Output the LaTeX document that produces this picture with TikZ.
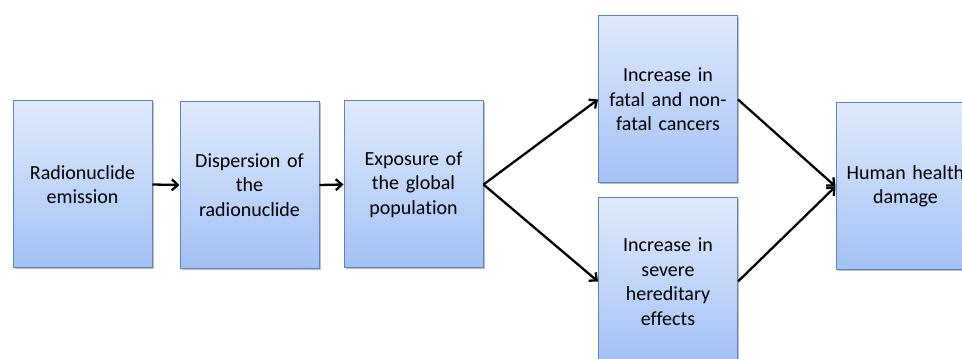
\documentclass[tikz,border=0pt]{standalone}
\usepackage{fontspec}
\setmainfont{Carlito}[Ligatures=NoCommon]
\usetikzlibrary{arrows.meta,shadows}
\definecolor{boxtop}{HTML}{E0EAFC}
\definecolor{boxbot}{HTML}{A3C1F5}
\definecolor{boxline}{HTML}{5A85BF}
\tikzset{
  stage/.style={draw=boxline, line width=1pt, top color=boxtop, bottom color=boxbot,
    minimum width=139pt, minimum height=167pt, inner sep=0pt, align=center,
    font=\fontsize{20}{24.5}\selectfont, text width=130pt,
    drop shadow={shadow xshift=1.5pt, shadow yshift=-1.5pt, fill=black, opacity=0.25}},
  flow/.style={line width=2.3pt, -{Straight Barb[length=6pt,width=11pt,line width=2.3pt]}}
}
\begin{document}
\begin{tikzpicture}[x=1pt,y=1pt]
\useasboundingbox (0,0) rectangle (962,359);
\clip (0,0) rectangle (962,359);
\node[stage] (a) at (82.5,174.5) {Radionuclide\\emission};
\node[stage] (b) at (249.5,174) {Dispersion of\\the\\radionuclide};
\node[stage] (c) at (413.5,174.5) {Exposure of\\the global\\population};
\node[stage] (d) at (668,259.5) {Increase in\\fatal and non-\\fatal cancers};
\node[stage] (e) at (668,77.5) {Increase in\\severe\\hereditary\\effects};
\node[stage] (f) at (905.5,172.5) {Human health\\damage};
\draw[flow] (a.east) -- (b.west);
\draw[flow] (b.east) -- (c.west);
\draw[flow] (c.east) -- (d.west);
\draw[flow] (c.east) -- (e.west);
\draw[flow] (d.east) -- (f.west);
\draw[flow] (e.east) -- (f.west);
\end{tikzpicture}
\end{document}
